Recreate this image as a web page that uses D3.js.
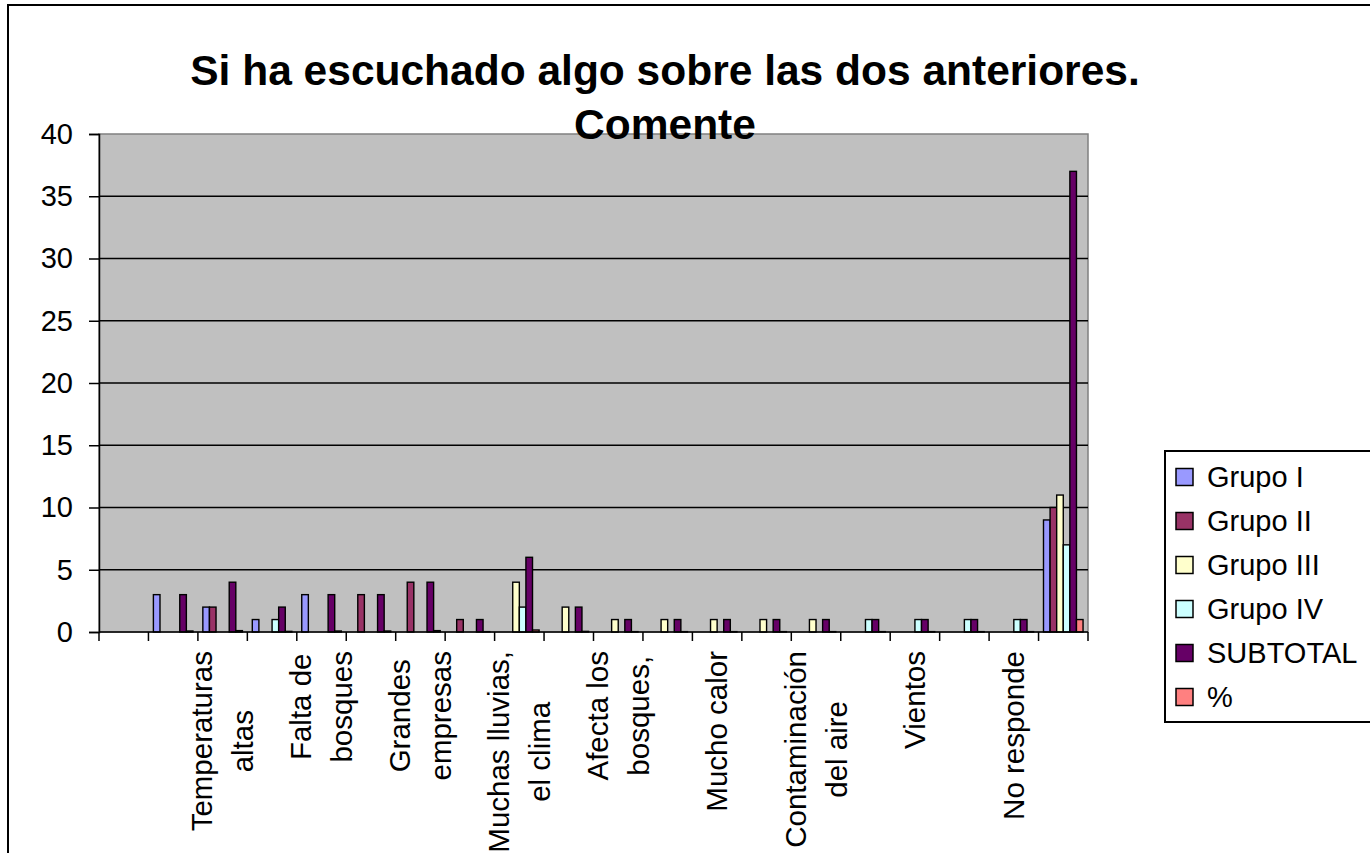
<!DOCTYPE html>
<html>
<head>
<meta charset="utf-8">
<script src="https://cdn.jsdelivr.net/npm/d3@7/dist/d3.min.js"></script>
<style>
  html, body { margin: 0; padding: 0; background: #ffffff; }
  svg { display: block; }
  text { font-family: "Liberation Sans", Arial, sans-serif; fill: #000; }
</style>
</head>
<body>
<svg id="chart" width="1370" height="853"></svg>
<script>
// ---------- data ----------
const titleLines = ["Si ha escuchado algo sobre las dos anteriores.", "Comente"];
const categories = ["", "", "Temperaturas\naltas", "", "Falta de\nbosques", "", "Grandes\nempresas", "",
  "Muchas lluvias,\nel clima", "", "Afecta los\nbosques,", "", "Mucho calor", "",
  "Contaminación\ndel aire", "", "Vientos", "", "No responde", ""];
// Excel shows every other category label
const shownLabel = categories.map((c, i) => i % 2 === 0);
const seriesNames = ["Grupo I", "Grupo II", "Grupo III", "Grupo IV", "SUBTOTAL", "%"];
const grupoI    = [0, 3, 2, 1, 3, 0, 0, 0, 0, 0, 0, 0, 0, 0, 0, 0, 0, 0, 0, 9];
const grupoII   = [0, 0, 2, 0, 0, 3, 4, 1, 0, 0, 0, 0, 0, 0, 0, 0, 0, 0, 0, 10];
const grupoIII  = [0, 0, 0, 0, 0, 0, 0, 0, 4, 2, 1, 1, 1, 1, 1, 0, 0, 0, 0, 11];
const grupoIV   = [0, 0, 0, 1, 0, 0, 0, 0, 2, 0, 0, 0, 0, 0, 0, 1, 1, 1, 1, 7];
const subtotal  = [0, 3, 4, 2, 3, 3, 4, 1, 6, 2, 1, 1, 1, 1, 1, 1, 1, 1, 1, 37];
const porcentaje = [0, 0.08, 0.11, 0.05, 0.08, 0.08, 0.11, 0.03, 0.16, 0.05, 0.03, 0.03, 0.03, 0.03, 0.03, 0.03, 0.03, 0.03, 0.03, 1];
const seriesValues = [grupoI, grupoII, grupoIII, grupoIV, subtotal, porcentaje];
const seriesColors = ["#9999FF", "#993366", "#FFFFCC", "#CCFFFF", "#660066", "#FF8080"];
const yTicks = [0, 5, 10, 15, 20, 25, 30, 35, 40];

// ---------- layout ----------
const svg = d3.select("#chart");
const plot = { left: 99, right: 1088, top: 134, bottom: 632 };

// chart area border
svg.append("rect").attr("x", 8).attr("y", 5).attr("width", 1400).attr("height", 900)
  .attr("fill", "#fff").attr("stroke", "#000").attr("stroke-width", 2);

const x = d3.scaleBand().domain(d3.range(categories.length)).range([plot.left, plot.right]).paddingInner(0).paddingOuter(0);
const xs = d3.scaleBand().domain(d3.range(seriesNames.length)).range([0, x.bandwidth()]).paddingInner(0).paddingOuter(0.75);
const y = d3.scaleLinear().domain([0, 40]).range([plot.bottom, plot.top]);

// plot area
svg.append("rect").attr("x", plot.left).attr("y", plot.top)
  .attr("width", plot.right - plot.left).attr("height", plot.bottom - plot.top)
  .attr("fill", "#C0C0C0").attr("stroke", "#808080").attr("stroke-width", 1.5);

// gridlines
svg.append("g").selectAll("line").data(yTicks.filter(t => t > 0 && t < 40)).join("line")
  .attr("x1", plot.left).attr("x2", plot.right)
  .attr("y1", d => y(d)).attr("y2", d => y(d))
  .attr("stroke", "#000").attr("stroke-width", 1.3);

// bars
const bars = [];
categories.forEach((c, ci) => {
  seriesValues.forEach((vals, si) => {
    if (vals[ci] > 0) bars.push({ ci, si, v: vals[ci] });
  });
});
svg.append("g").selectAll("rect").data(bars).join("rect")
  .attr("x", d => x(d.ci) + xs(d.si))
  .attr("width", xs.bandwidth())
  .attr("y", d => y(d.v))
  .attr("height", d => y(0) - y(d.v))
  .attr("fill", d => seriesColors[d.si])
  .attr("stroke", "#000").attr("stroke-width", 1.4);

// y axis
const yAxis = d3.axisLeft(y).tickValues(yTicks).tickSize(10).tickPadding(16).tickFormat(d3.format("d"));
const yg = svg.append("g").attr("transform", `translate(${plot.left},0)`).call(yAxis);
yg.select(".domain").attr("stroke", "#000").attr("stroke-width", 1.5);
yg.selectAll(".tick line").attr("stroke", "#000").attr("stroke-width", 1.5);
yg.selectAll(".tick text").attr("font-size", 29).attr("font-family", "Liberation Sans, Arial, sans-serif").attr("fill", "#000");

// x axis (ticks at category boundaries)
const boundaries = d3.range(categories.length + 1).map(i => plot.left + i * x.step());
const xg = svg.append("g");
xg.append("line").attr("x1", plot.left).attr("x2", plot.right).attr("y1", plot.bottom).attr("y2", plot.bottom)
  .attr("stroke", "#000").attr("stroke-width", 1.5);
xg.selectAll("line.tick").data(boundaries).join("line").attr("class", "tick")
  .attr("x1", d => d).attr("x2", d => d).attr("y1", plot.bottom).attr("y2", plot.bottom + 9)
  .attr("stroke", "#000").attr("stroke-width", 1.5);

// x labels (rotated, wrapped, anchored at top)
const labelTop = 651, lineGap = 41;
categories.forEach((c, ci) => {
  if (!shownLabel[ci] || !c) return;
  const lines = c.split("\n");
  const g = svg.append("g").attr("transform", `translate(${x(ci) + x.bandwidth() / 2},${labelTop}) rotate(-90)`);
  const texts = lines.map((ln, li) => g.append("text").text(ln)
    .attr("font-size", 29.5).attr("text-anchor", "middle")
    .attr("y", (li - (lines.length - 1) / 2) * lineGap).attr("dy", "0.35em"));
  const maxLen = d3.max(texts, t => t.node().getComputedTextLength());
  texts.forEach(t => t.attr("x", -maxLen / 2));
});

// title
svg.append("g").selectAll("text").data(titleLines).join("text")
  .attr("x", 665).attr("y", (d, i) => 85 + i * 54)
  .attr("text-anchor", "middle").attr("font-size", 42.5).attr("font-weight", "bold")
  .text(d => d);

// legend
const lg = svg.append("g");
lg.append("rect").attr("x", 1165).attr("y", 451).attr("width", 300).attr("height", 271)
  .attr("fill", "#fff").attr("stroke", "#000").attr("stroke-width", 2);
const items = lg.selectAll("g.item").data(seriesNames).join("g").attr("class", "item")
  .attr("transform", (d, i) => `translate(1176,${477 + i * 44})`);
items.append("rect").attr("x", 0).attr("y", -8.5).attr("width", 17).attr("height", 17)
  .attr("fill", (d, i) => seriesColors[i]).attr("stroke", "#000").attr("stroke-width", 1.5);
items.append("text").attr("x", 31).attr("y", 0).attr("dy", "0.35em").attr("font-size", 29).text(d => d);
</script>
</body>
</html>
